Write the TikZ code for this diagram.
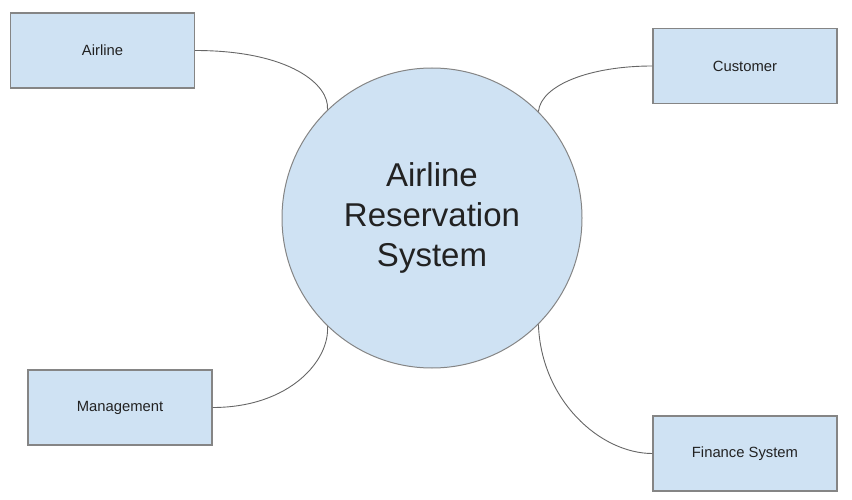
\documentclass[tikz,border=0pt]{standalone}
\usepackage{fontspec}
\setmainfont{Liberation Sans}
\definecolor{boxfill}{HTML}{CFE2F3}
\definecolor{boxline}{HTML}{858585}
\definecolor{conn}{HTML}{666666}
\definecolor{txt}{HTML}{222222}
\begin{document}
\begin{tikzpicture}[x=1pt,y=-1pt,
  entity/.style={draw=boxline,line width=1.3pt,fill=boxfill,minimum width=184pt,minimum height=75pt,inner sep=0pt,text=txt,font=\fontsize{14.8}{17}\selectfont},
  hub/.style={circle,draw=boxline,line width=1pt,fill=boxfill,minimum size=300pt,inner sep=0pt,text=txt,align=center,font=\fontsize{33}{40}\selectfont},
  link/.style={draw=conn,line width=0.9pt}]
\useasboundingbox (0,0) rectangle (852,500);
\node[hub] (C) at (432,218) {Airline\\Reservation\\System};
\node[entity] (A) at (102.5,50.5) {Airline};
\node[entity] (U) at (745,66) {Customer};
\node[entity] (M) at (120,407.5) {Management};
\node[entity] (F) at (745,453.5) {Finance System};
\draw[link] (A.east) .. controls (290,50.5) and (330,85) .. (C.134);
\draw[link] (U.west) .. controls (590,66) and (541,85) .. (C.45);
\draw[link] (M.east) .. controls (290,407.5) and (330,360) .. (C.226);
\draw[link] (F.west) .. controls (600,453.5) and (541,400) .. (C.315);
\end{tikzpicture}
\end{document}
